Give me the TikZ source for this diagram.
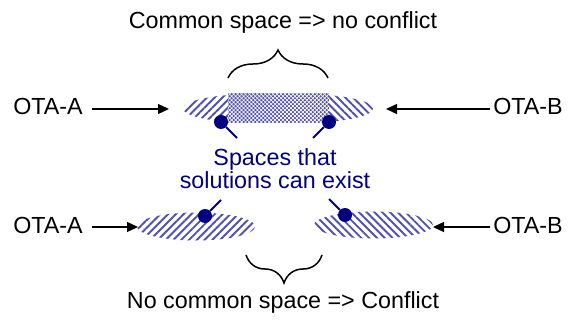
\documentclass[tikz,border=0pt]{standalone}
\usepackage{fontspec}
\setmainfont{Liberation Sans}
\usetikzlibrary{patterns.meta,arrows.meta,decorations.pathreplacing}
\definecolor{hatch}{RGB}{80,80,176}
\definecolor{navy}{RGB}{0,0,128}
\begin{document}
\begin{tikzpicture}[x=1pt,y=-1pt,
  lbl/.style={font=\fontsize{23.3}{27}\selectfont, inner sep=0pt},
  nlbl/.style={lbl, text=navy, align=center},
  hatchA/.style={pattern={Lines[angle=45,distance=5.5pt,line width=1.9pt]}, pattern color=hatch},
  hatchB/.style={pattern={Lines[angle=-45,distance=5.5pt,line width=1.9pt]}, pattern color=hatch},
  arr/.style={-{Triangle[length=11pt,width=10pt]}, line width=1.3pt},
  dot/.style={circle, fill=navy, minimum size=14pt, inner sep=0pt},
  lead/.style={navy, line width=2pt},
  brc/.style={decorate, decoration={brace, amplitude=28pt}, line width=1.5pt}
]
\useasboundingbox (0,0) rectangle (575,320);
% top region
\fill[hatchA] (255.5,108.5) ellipse [x radius=72.5, y radius=14.5];
\fill[hatchB] (300.5,108.5) ellipse [x radius=72.5, y radius=14.5];
\fill[hatch] (228,93.5) rectangle (329,123);
\fill[pattern={Lines[angle=45,distance=2.8pt,line width=0.7pt]}, pattern color=white] (228,93.5) rectangle (329,123);
\fill[pattern={Lines[angle=-45,distance=2.8pt,line width=0.7pt]}, pattern color=white] (228,93.5) rectangle (329,123);
\coordinate (bt1) at (228,78);
\coordinate (bt2) at (328,78);
\draw[brc] (bt1) -- (bt2);
\node[lbl] (ttop) at (283,22) {Common space => no conflict};
\node[lbl] (a1) at (48,106) {OTA-A};
\node[lbl] (b1) at (528,106) {OTA-B};
\coordinate (sa1) at (92,109);
\coordinate (ea1) at (169,109);
\coordinate (sb1) at (490,109);
\coordinate (eb1) at (386,109);
\draw[arr] (sa1) -- (ea1);
\draw[arr] (sb1) -- (eb1);
\node[dot] (d1) at (221,122) {};
\node[dot] (d2) at (329,122) {};
\coordinate (l1) at (237,138);
\coordinate (l2) at (313,138);
\draw[lead] (d1) -- (l1);
\draw[lead] (d2) -- (l2);
% middle text
\node[nlbl] (sp) at (275,169) {Spaces that\\[-4pt]solutions can exist};
% bottom region
\fill[hatchA] (196,226.5) ellipse [x radius=59, y radius=14];
\fill[hatchB] (373.5,225) ellipse [x radius=59.5, y radius=13.5];
\node[lbl] (a2) at (48,225) {OTA-A};
\node[lbl] (b2) at (528,225) {OTA-B};
\coordinate (sa2) at (92,227);
\coordinate (ea2) at (138,227);
\coordinate (sb2) at (490,227);
\coordinate (eb2) at (433,227);
\draw[arr] (sa2) -- (ea2);
\draw[arr] (sb2) -- (eb2);
\node[dot] (d3) at (205,216) {};
\node[dot] (d4) at (345,215) {};
\coordinate (l3) at (221,200);
\coordinate (l4) at (329,199);
\draw[lead] (d3) -- (l3);
\draw[lead] (d4) -- (l4);
\coordinate (bb1) at (322,255);
\coordinate (bb2) at (246,255);
\draw[brc] (bb1) -- (bb2);
\node[lbl] (tbot) at (283,302) {No common space => Conflict};
\end{tikzpicture}
\end{document}
